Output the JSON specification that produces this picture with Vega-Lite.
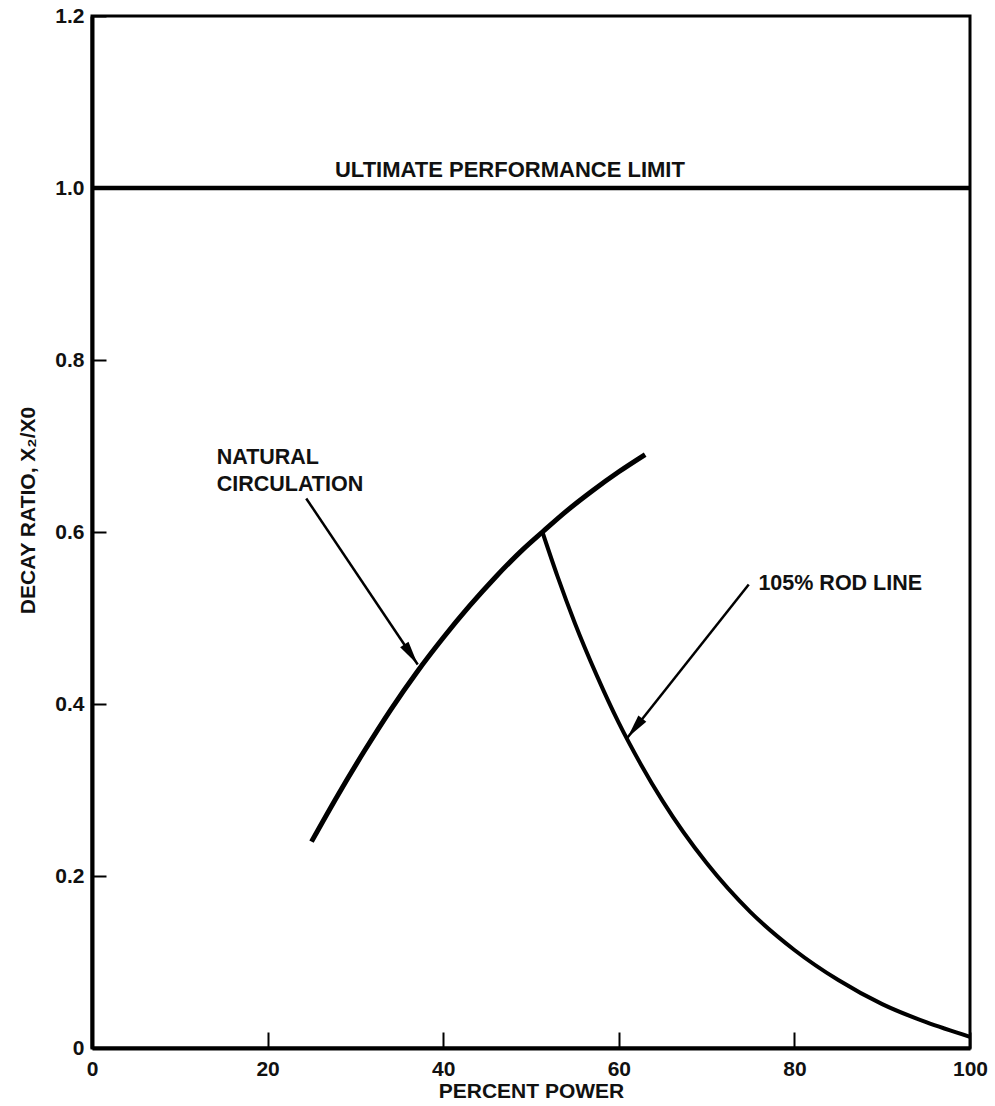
{
  "$schema": "https://vega.github.io/schema/vega-lite/v6.json",
  "autosize": "none",
  "width": 878,
  "height": 1032,
  "padding": {"left": 92, "top": 16, "right": 25, "bottom": 58},
  "background": "white",
  "config": {
    "view": {"stroke": "black", "strokeWidth": 3},
    "font": "Liberation Sans",
    "axis": {
      "grid": false,
      "domainColor": "black",
      "domainWidth": 4,
      "tickColor": "black",
      "tickWidth": 2,
      "labelFlush": false,
      "labelFont": "Liberation Sans",
      "labelFontWeight": "bold",
      "labelFontSize": 21,
      "labelColor": "#111",
      "titleFont": "Liberation Sans",
      "titleFontWeight": "bold",
      "titleFontSize": 21,
      "titleColor": "#111"
    }
  },
  "datasets": {
    "natural": [
      {"power": 25, "ratio": 0.240},
      {"power": 28, "ratio": 0.294},
      {"power": 31, "ratio": 0.345},
      {"power": 34, "ratio": 0.393},
      {"power": 37, "ratio": 0.437},
      {"power": 40, "ratio": 0.477},
      {"power": 43, "ratio": 0.514},
      {"power": 46, "ratio": 0.548},
      {"power": 49, "ratio": 0.579},
      {"power": 51.3, "ratio": 0.600},
      {"power": 54, "ratio": 0.624},
      {"power": 57, "ratio": 0.648},
      {"power": 60, "ratio": 0.670},
      {"power": 63, "ratio": 0.690}
    ],
    "rod": [
      {"power": 51.3, "ratio": 0.600},
      {"power": 53, "ratio": 0.549},
      {"power": 55, "ratio": 0.494},
      {"power": 57.5, "ratio": 0.433},
      {"power": 60, "ratio": 0.378},
      {"power": 62.5, "ratio": 0.330},
      {"power": 65, "ratio": 0.287},
      {"power": 70, "ratio": 0.215},
      {"power": 75, "ratio": 0.158},
      {"power": 80, "ratio": 0.114},
      {"power": 85, "ratio": 0.079},
      {"power": 90, "ratio": 0.051},
      {"power": 95, "ratio": 0.030},
      {"power": 100, "ratio": 0.013}
    ],
    "labels": [
      {"power": 47.6, "ratio": 1.021, "text": "ULTIMATE PERFORMANCE LIMIT", "anchor": "center"},
      {"power": 14.2, "ratio": 0.686, "text": "NATURAL", "anchor": "left"},
      {"power": 14.2, "ratio": 0.655, "text": "CIRCULATION", "anchor": "left"},
      {"power": 75.9, "ratio": 0.539, "text": "105% ROD LINE", "anchor": "left"}
    ],
    "arrows": [
      {"name": "natural", "power": 24.4, "ratio": 0.639, "power2": 37.1, "ratio2": 0.446},
      {"name": "rod", "power": 74.8, "ratio": 0.539, "power2": 61.0, "ratio2": 0.361}
    ]
  },
  "layer": [
    {
      "data": {"values": [{"limit": 1.0}]},
      "mark": {"type": "rule", "color": "black", "strokeWidth": 4.5},
      "encoding": {
        "y": {"field": "limit", "type": "quantitative", "scale": {"domain": [0, 1.2]}}
      }
    },
    {
      "data": {"name": "natural"},
      "mark": {"type": "line", "color": "black", "strokeWidth": 5, "interpolate": "monotone", "strokeCap": "butt"},
      "encoding": {
        "x": {"field": "power", "type": "quantitative", "scale": {"domain": [0, 100]},
          "axis": {"values": [0, 20, 40, 60, 80, 100], "tickSize": -16, "labelPadding": 26, "title": "PERCENT POWER", "titleY": 43, "titleBaseline": "middle"}},
        "y": {"field": "ratio", "type": "quantitative", "scale": {"domain": [0, 1.2]},
          "axis": {"values": [0, 0.2, 0.4, 0.6, 0.8, 1.0, 1.2], "tickSize": -14, "labelPadding": 22,
            "labelExpr": "datum.value == 0 ? '0' : format(datum.value, '.1f')",
            "title": "DECAY RATIO, X₂/X0", "titleX": -64, "titleY": 494, "titleBaseline": "middle"}}
      }
    },
    {
      "data": {"name": "rod"},
      "mark": {"type": "line", "color": "black", "strokeWidth": 4, "interpolate": "monotone"},
      "encoding": {
        "x": {"field": "power", "type": "quantitative"},
        "y": {"field": "ratio", "type": "quantitative"}
      }
    },
    {
      "data": {"name": "arrows"},
      "mark": {"type": "rule", "color": "black", "strokeWidth": 2.5},
      "encoding": {
        "x": {"field": "power", "type": "quantitative"},
        "y": {"field": "ratio", "type": "quantitative"},
        "x2": {"field": "power2"},
        "y2": {"field": "ratio2"}
      }
    },
    {
      "data": {"name": "arrows"},
      "transform": [{"filter": "datum.name == 'natural'"}],
      "mark": {"type": "point", "filled": true, "color": "black", "opacity": 1, "size": 576, "shape": "M0,0L-0.42,2L0.42,2Z", "angle": 146},
      "encoding": {
        "x": {"field": "power2", "type": "quantitative"},
        "y": {"field": "ratio2", "type": "quantitative"}
      }
    },
    {
      "data": {"name": "arrows"},
      "transform": [{"filter": "datum.name == 'rod'"}],
      "mark": {"type": "point", "filled": true, "color": "black", "opacity": 1, "size": 576, "shape": "M0,0L-0.42,2L0.42,2Z", "angle": 218},
      "encoding": {
        "x": {"field": "power2", "type": "quantitative"},
        "y": {"field": "ratio2", "type": "quantitative"}
      }
    },
    {
      "data": {"name": "labels"},
      "transform": [{"filter": "datum.anchor == 'center'"}],
      "mark": {"type": "text", "align": "center", "baseline": "middle", "font": "Liberation Sans", "fontWeight": "bold", "fontSize": 22, "color": "#111"},
      "encoding": {
        "x": {"field": "power", "type": "quantitative"},
        "y": {"field": "ratio", "type": "quantitative"},
        "text": {"field": "text"}
      }
    },
    {
      "data": {"name": "labels"},
      "transform": [{"filter": "datum.anchor == 'left'"}],
      "mark": {"type": "text", "align": "left", "baseline": "middle", "font": "Liberation Sans", "fontWeight": "bold", "fontSize": 21.5, "color": "#111"},
      "encoding": {
        "x": {"field": "power", "type": "quantitative"},
        "y": {"field": "ratio", "type": "quantitative"},
        "text": {"field": "text"}
      }
    }
  ]
}
